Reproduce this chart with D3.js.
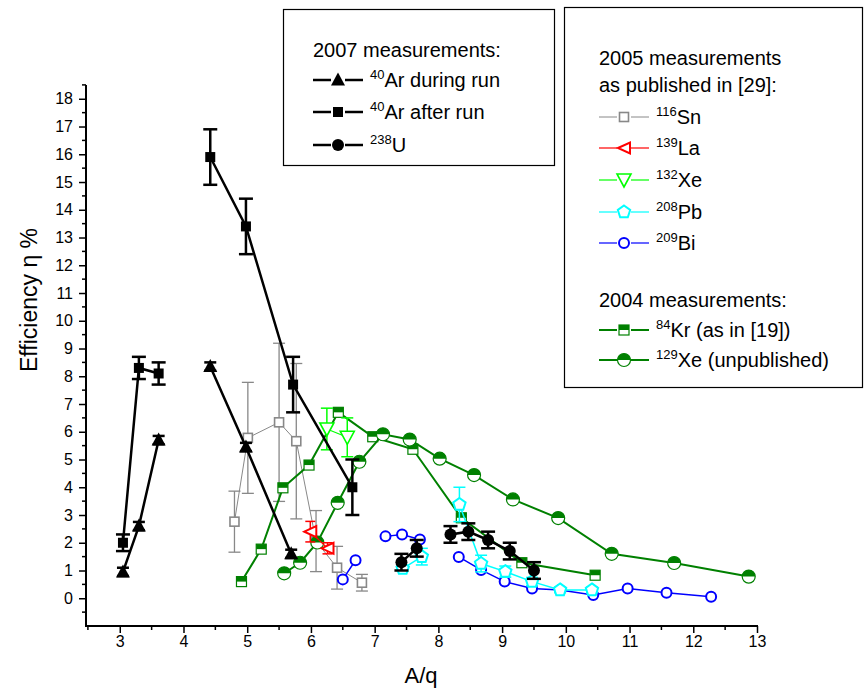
<!DOCTYPE html>
<html><head><meta charset="utf-8">
<script src="https://cdn.jsdelivr.net/npm/d3@7"></script>
<style>body{margin:0;background:#fff}svg{display:block;font-family:"Liberation Sans",Arial,sans-serif}</style>
</head><body><svg id="c" width="867" height="691"></svg>
<script>
// ---------- data ----------
const xTicks = [3,4,5,6,7,8,9,10,11,12,13];
const yTicks = [0,1,2,3,4,5,6,7,8,9,10,11,12,13,14,15,16,17,18];

// 2007 measurements (null = gap in line)
const arDuringX = [3.05, 3.30, 3.61, null, 4.42, 4.98, 5.69];
const arDuringY = [0.95, 2.6, 5.7, null, 8.35, 5.45, 1.6];
const arDuringErr = [0.15, 0.15, 0.15, null, 0.15, 0.15, 0.15];

const arAfterX = [3.05, 3.30, 3.61, null, 4.42, 4.98, 5.72, 6.65];
const arAfterY = [2.0, 8.3, 8.1, null, 15.9, 13.4, 7.7, 4.0];
const arAfterErr = [0.3, 0.4, 0.4, null, 1.0, 1.0, 1.0, 1.0];

const uX = [7.42, 7.66, null, 8.19, 8.47, 8.78, 9.12, 9.5];
const uY = [1.3, 1.8, null, 2.3, 2.4, 2.1, 1.7, 1.0];
const uErr = [0.3, 0.3, null, 0.3, 0.3, 0.3, 0.3, 0.3];

// 2005 measurements
const snX = [4.80, 5.01, 5.50, 5.77, 6.08, 6.41, 6.80];
const snY = [2.76, 5.78, 6.34, 5.66, 2.06, 1.10, 0.56];
const snErr = [1.1, 2.0, 2.85, 2.8, 1.1, 0.77, 0.3];

const laX = [5.99, 6.26];
const laY = [2.4, 1.8];
const laErr = [0.37, 0.2];

const xe132X = [6.25, 6.57];
const xe132Y = [6.1, 5.8];
const xe132Err = [0.75, 0.7];

const pbX = [7.44, 7.74, null, 8.33, 8.67, 9.05, 9.47, 9.91, 10.41];
const pbY = [1.07, 1.5, null, 3.38, 1.25, 0.96, 0.6, 0.3, 0.3];
const pbErr = [0.1, 0.3, null, 0.62, 0.3, 0.2, 0.15, 0.1, 0.1];

const biX = [6.50, 6.70, null, 7.17, 7.43, 7.71, null, 8.32, 8.67, 9.04, 9.47, 9.91, 10.43, 10.97, 11.58, 12.28];
const biY = [0.68, 1.37, null, 2.23, 2.30, 2.12, null, 1.49, 1.02, 0.60, 0.35, 0.30, 0.12, 0.35, 0.20, 0.05];
const biErr = [0.1, 0.1, null, 0.1, 0.1, 0.1, null, 0.1, 0.1, 0.1, 0.1, 0.1, 0.1, 0.1, 0.1, 0.1];

// 2004 measurements
const krX = [4.91, 5.22, 5.56, 5.97, 6.43, 6.97, 7.60, 8.36, 9.31, 10.46];
const krY = [0.6, 1.77, 3.98, 4.8, 6.7, 5.82, 5.37, 2.9, 1.28, 0.83];

const xe129X = [5.58, 5.83, 6.10, 6.42, 6.76, 7.13, 7.55, 8.02, 8.56, 9.17, 9.88, 10.72, 11.70, 12.87];
const xe129Y = [0.9, 1.28, 2.01, 3.44, 4.92, 5.91, 5.72, 5.03, 4.44, 3.56, 2.89, 1.6, 1.27, 0.78];

// ---------- chart ----------
const svg = d3.select("#c");
const x = d3.scaleLinear().domain([2.47, 13]).range([86, 757]);
const y = d3.scaleLinear().domain([-1, 18.5]).range([626, 84.9]);

function pts(xs, ys, es) {
  return xs.map((v, i) => ({x: v, y: ys[i], e: es ? es[i] : null}));
}
const line = d3.line().defined(d => d.x != null).x(d => x(d.x)).y(d => y(d.y));

// axes
const gx = svg.append("g").attr("transform", "translate(0,626)")
  .call(d3.axisBottom(x).tickValues(xTicks).tickSize(7).tickPadding(3).tickFormat(d3.format("d")));
gx.select(".domain").remove();
gx.selectAll(".tick line").attr("stroke", "#000").attr("stroke-width", 1.5);
gx.selectAll("text").attr("font-size", 16).attr("fill", "#000");
gx.selectAll(".minor").data(d3.range(2.5, 13, 1)).enter().append("line")
  .attr("x1", d => x(d)).attr("x2", d => x(d)).attr("y1", 0).attr("y2", 4)
  .attr("stroke", "#000").attr("stroke-width", 1.5);

const gy = svg.append("g").attr("transform", "translate(86,0)")
  .call(d3.axisLeft(y).tickValues(yTicks).tickSize(7).tickPadding(6).tickFormat(d3.format("d")));
gy.select(".domain").remove();
gy.selectAll(".tick line").attr("stroke", "#000").attr("stroke-width", 1.5);
gy.selectAll("text").attr("font-size", 16).attr("fill", "#000");
gy.selectAll(".minor").data(d3.range(-0.5, 18.6, 1)).enter().append("line")
  .attr("x1", 0).attr("x2", -4).attr("y1", d => y(d)).attr("y2", d => y(d))
  .attr("stroke", "#000").attr("stroke-width", 1.5);

svg.append("line").attr("x1", 85).attr("x2", 758).attr("y1", 626).attr("y2", 626).attr("stroke", "#000").attr("stroke-width", 2);
svg.append("line").attr("x1", 86).attr("x2", 86).attr("y1", y(18.5)).attr("y2", 627).attr("stroke", "#000").attr("stroke-width", 2);

svg.append("text").attr("x", 421).attr("y", 683).attr("text-anchor", "middle").attr("font-size", 22).text("A/q");
svg.append("text").attr("transform", "translate(37,300) rotate(-90)").attr("text-anchor", "middle").attr("font-size", 23).text("Efficiency η %");

// marker shapes
function drawMarker(g, type, cx, cy, color) {
  const s = g.append("g").attr("transform", `translate(${cx},${cy})`);
  if (type === "triUp") {
    s.append("path").attr("d", "M0,-7.5L7,5.5L-7,5.5Z").attr("fill", "#000");
  } else if (type === "sqFill") {
    s.append("rect").attr("x", -5).attr("y", -5).attr("width", 10).attr("height", 10).attr("fill", "#000");
  } else if (type === "circFill") {
    s.append("circle").attr("r", 6).attr("fill", "#000");
  } else if (type === "sqOpen") {
    s.append("rect").attr("x", -4.5).attr("y", -4.5).attr("width", 9).attr("height", 9).attr("fill", "#fff").attr("stroke", color).attr("stroke-width", 1.6);
  } else if (type === "triLeft") {
    s.append("path").attr("d", "M-6,0L6,-5.5L6,5.5Z").attr("fill", "#fff").attr("stroke", color).attr("stroke-width", 2);
  } else if (type === "triDown") {
    s.append("path").attr("d", "M-7,-6L7,-6L0,7Z").attr("fill", "#fff").attr("stroke", color).attr("stroke-width", 1.6);
  } else if (type === "pent") {
    const r = 6.5;
    const p = d3.range(5).map(i => { const a = -Math.PI / 2 + i * 2 * Math.PI / 5; return [r * Math.cos(a), r * Math.sin(a)]; });
    s.append("path").attr("d", "M" + p.join("L") + "Z").attr("fill", "#fff").attr("stroke", color).attr("stroke-width", 2);
  } else if (type === "circOpen") {
    s.append("circle").attr("r", 5).attr("fill", "#fff").attr("stroke", color).attr("stroke-width", 2);
  } else if (type === "sqHalf") {
    s.append("rect").attr("x", -5).attr("y", -5).attr("width", 10).attr("height", 10).attr("fill", "#fff").attr("stroke", color).attr("stroke-width", 1.2);
    s.append("rect").attr("x", -5).attr("y", -5).attr("width", 10).attr("height", 5).attr("fill", color);
  } else if (type === "circHalf") {
    s.append("circle").attr("r", 6.5).attr("fill", "#fff").attr("stroke", color).attr("stroke-width", 1.2);
    s.append("path").attr("d", "M-6.5,0A6.5,6.5 0 0 1 6.5,0Z").attr("fill", color);
  }
}

function series(xs, ys, es, opt) {
  const data = pts(xs, ys, es);
  const g = svg.append("g");
  g.append("path").datum(data).attr("d", line).attr("fill", "none")
    .attr("stroke", opt.lineColor || opt.color).attr("stroke-width", opt.lw);
  const real = data.filter(d => d.x != null);
  if (es) {
    real.forEach(d => {
      if (!d.e) return;
      const eg = g.append("g").attr("stroke", opt.color).attr("stroke-width", opt.elw || 1);
      eg.append("line").attr("x1", x(d.x)).attr("x2", x(d.x)).attr("y1", y(d.y - d.e)).attr("y2", y(d.y + d.e));
      [d.y - d.e, d.y + d.e].forEach(v => eg.append("line")
        .attr("x1", x(d.x) - opt.cap).attr("x2", x(d.x) + opt.cap).attr("y1", y(v)).attr("y2", y(v)));
    });
  }
  real.forEach(d => drawMarker(g, opt.marker, x(d.x), y(d.y), opt.color));
}

series(snX, snY, snErr, {color: "#888888", lw: 1, elw: 1.3, cap: 6, marker: "sqOpen"});
series(krX, krY, null, {color: "#008000", lw: 2, marker: "sqHalf"});
series(xe129X, xe129Y, null, {color: "#008000", lw: 2, marker: "circHalf"});
series(laX, laY, laErr, {color: "#ff0000", lw: 1.2, elw: 1.5, cap: 5, marker: "triLeft"});
series(xe132X, xe132Y, xe132Err, {color: "#00ff00", lw: 1.2, elw: 1.5, cap: 6, marker: "triDown"});
series(biX, biY, biErr, {color: "#0000ff", lw: 1.5, elw: 1.5, cap: 4, marker: "circOpen"});
series(pbX, pbY, pbErr, {color: "#00ffff", lw: 1.5, elw: 1.5, cap: 6, marker: "pent"});
series(arDuringX, arDuringY, arDuringErr, {color: "#000", lw: 2.5, elw: 2.5, cap: 6, marker: "triUp"});
series(arAfterX, arAfterY, arAfterErr, {color: "#000", lw: 2.5, elw: 2.5, cap: 7, marker: "sqFill"});
series(uX, uY, uErr, {color: "#000", lw: 2.5, elw: 2.5, cap: 7, marker: "circFill"});

// ---------- legends ----------
function legendItem(g, lx, ly, marker, color, lw, sup, main) {
  g.append("line").attr("x1", lx).attr("x2", lx + 18).attr("y1", ly).attr("y2", ly).attr("stroke", color).attr("stroke-width", lw);
  g.append("line").attr("x1", lx + 32).attr("x2", lx + 50).attr("y1", ly).attr("y2", ly).attr("stroke", color).attr("stroke-width", lw);
  drawMarker(g, marker, lx + 25, ly, color);
  const t = g.append("text").attr("x", lx + 57).attr("y", ly + 7).attr("font-size", 20);
  t.append("tspan").attr("font-size", 13).attr("dy", -8).text(sup);
  t.append("tspan").attr("dy", 8).text(main);
}

const L1 = svg.append("g");
L1.append("rect").attr("x", 283.5).attr("y", 9.5).attr("width", 271).attr("height", 156).attr("fill", "#fff").attr("stroke", "#000").attr("stroke-width", 1.2);
L1.append("text").attr("x", 313).attr("y", 57).attr("font-size", 20).text("2007 measurements:");
legendItem(L1, 313, 80, "triUp", "#000", 2.5, "40", "Ar during run");
legendItem(L1, 313, 112, "sqFill", "#000", 2.5, "40", "Ar after run");
legendItem(L1, 313, 145, "circFill", "#000", 2.5, "238", "U");

const L2 = svg.append("g");
L2.append("rect").attr("x", 564.5).attr("y", 7.5).attr("width", 298).attr("height", 380).attr("fill", "#fff").attr("stroke", "#000").attr("stroke-width", 1.2);
L2.append("text").attr("x", 599).attr("y", 65).attr("font-size", 20).text("2005 measurements");
L2.append("text").attr("x", 599).attr("y", 92).attr("font-size", 20).text("as published in [29]:");
legendItem(L2, 599, 117, "sqOpen", "#888888", 1, "116", "Sn");
legendItem(L2, 599, 148, "triLeft", "#ff0000", 1.2, "139", "La");
legendItem(L2, 599, 180, "triDown", "#00ff00", 1.2, "132", "Xe");
legendItem(L2, 599, 212, "pent", "#00ffff", 1.2, "208", "Pb");
legendItem(L2, 599, 243, "circOpen", "#0000ff", 1.2, "209", "Bi");
L2.append("text").attr("x", 599).attr("y", 307).attr("font-size", 20).text("2004 measurements:");
legendItem(L2, 599, 330, "sqHalf", "#008000", 2, "84", "Kr (as in [19])");
legendItem(L2, 599, 360, "circHalf", "#008000", 2, "129", "Xe (unpublished)");
</script></body></html>
